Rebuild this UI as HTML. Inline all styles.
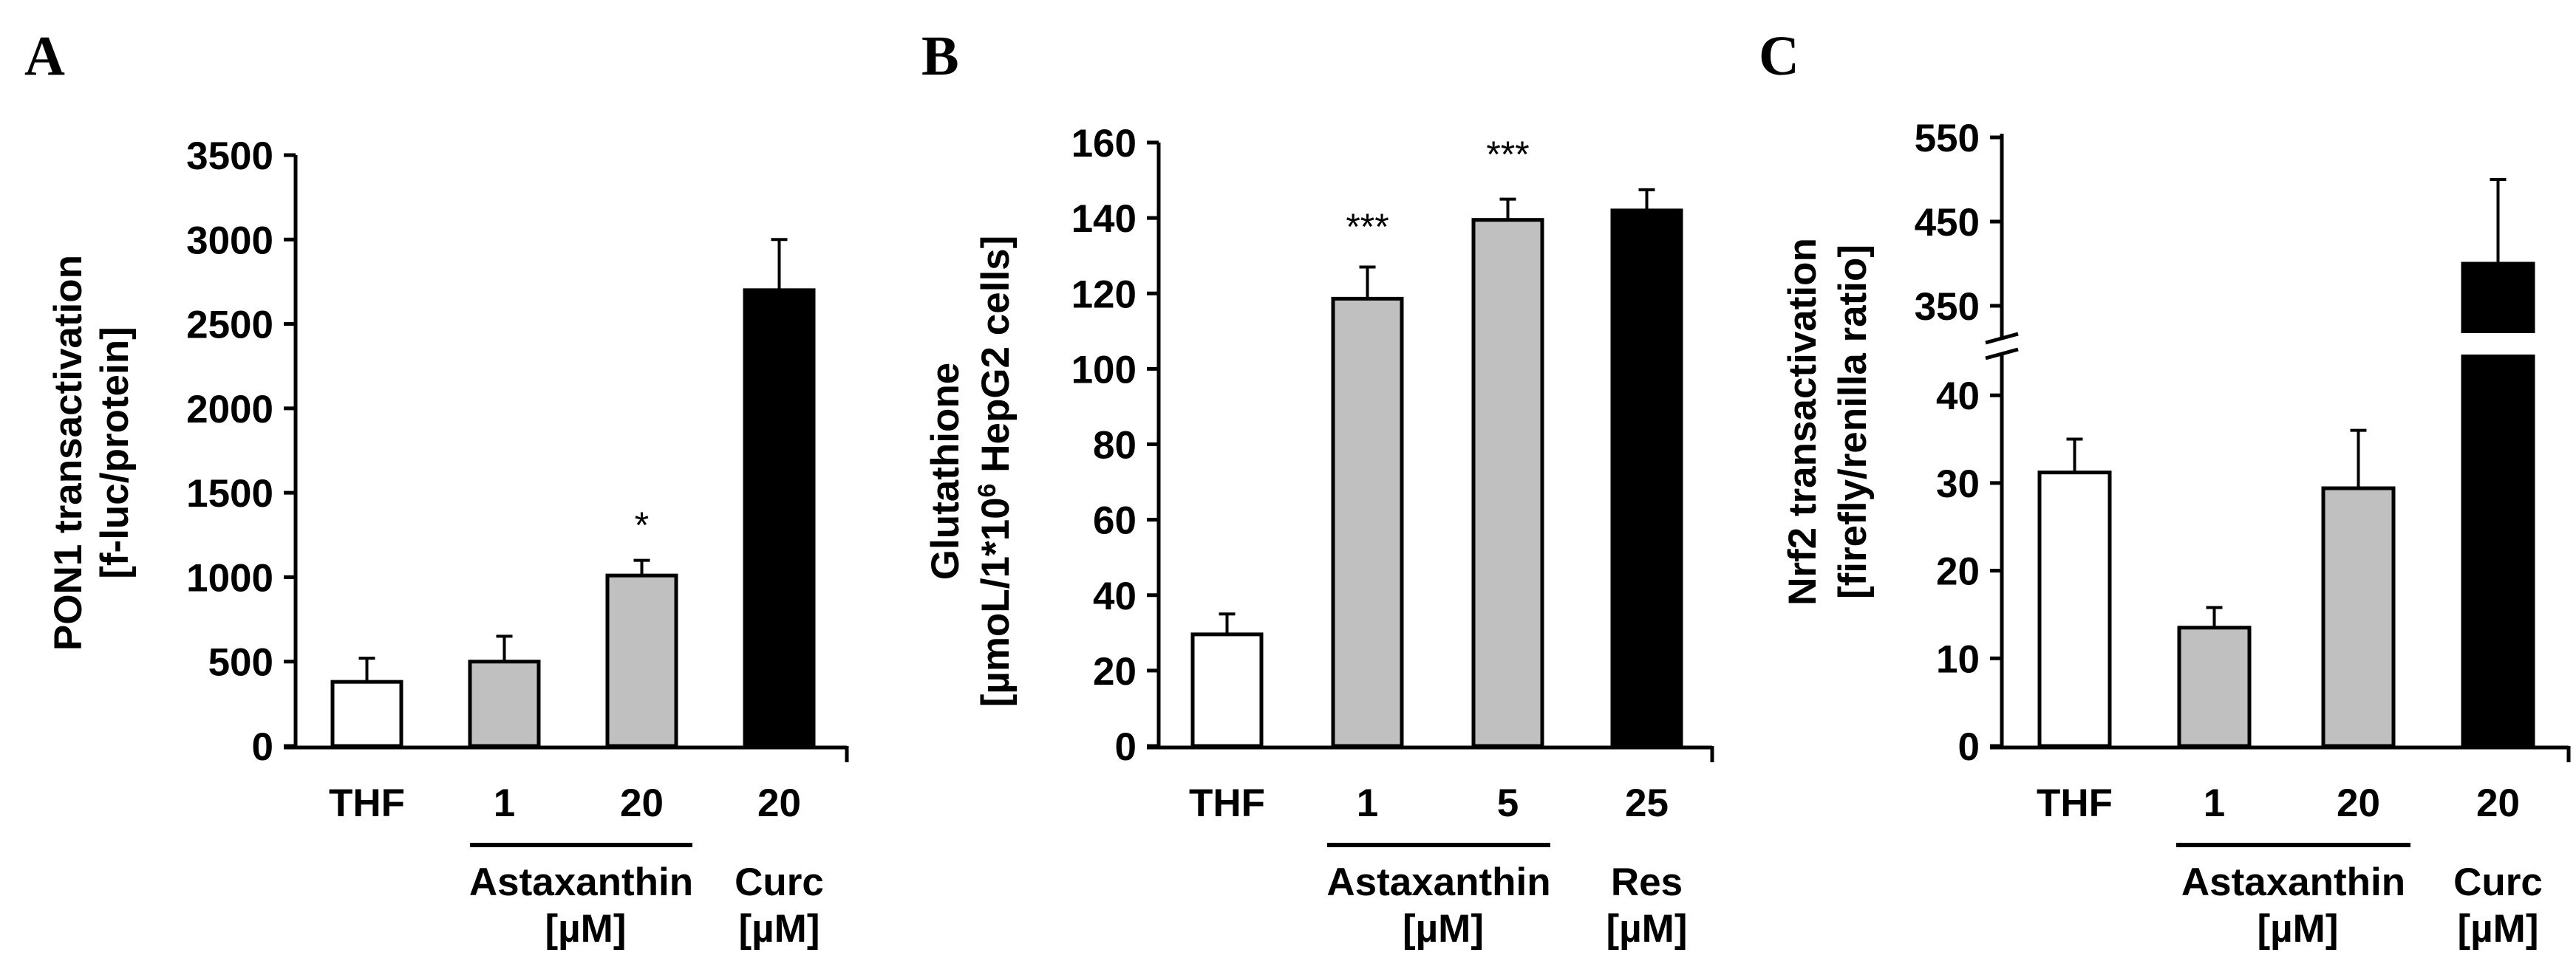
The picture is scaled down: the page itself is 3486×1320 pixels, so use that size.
<!DOCTYPE html>
<html><head><meta charset="utf-8"><style>
html,body{margin:0;padding:0;background:#fff;}
svg text{font-family:"Liberation Sans",Arial,sans-serif;font-weight:bold;fill:#000;}
svg text.letter{font-family:"Liberation Serif",serif;}
</style></head><body>
<svg id="fig" xmlns="http://www.w3.org/2000/svg" width="3486" height="1315" viewBox="0 0 3486 1315"></svg>
<script>
// Panel A data
const catsA = ["THF","1","20","20"];
const valsA = [380,500,1010,2700];
const errsA = [520,650,1100,3000];
const ticksA = [0,500,1000,1500,2000,2500,3000,3500];
const sigA = ["","","*",""];
// Panel B data
const catsB = ["THF","1","5","25"];
const valsB = [29.6,118.6,139.5,142];
const errsB = [35,127,145,147.5];
const ticksB = [0,20,40,60,80,100,120,140,160];
const sigB = ["","***","***",""];
// Panel C data
const catsC = ["THF","1","20","20"];
const valsC = [31.2,13.5,29.4,400];
const errsC = [35,15.8,36,500];
const ticksCLow = [0,10,20,30,40];
const ticksCHigh = [350,450,550];
const fills = ["#fff","#c0c0c0","#c0c0c0","#000"];

const NS="http://www.w3.org/2000/svg";
const svg=document.getElementById('fig');
const FS=53;
function mk(tag,attrs,parent){const e=document.createElementNS(NS,tag);for(const k in attrs)e.setAttribute(k,attrs[k]);(parent||svg).appendChild(e);return e;}
function txt(s,x,y,size,anchor,parent,cls){const t=mk('text',{x:x,y:y,'font-size':size,'text-anchor':anchor||'middle'},parent);if(cls)t.setAttribute('class',cls);t.textContent=s;return t;}

function panel(o){
  const g=mk('g',{});
  
  
  const L=txt(o.letter,o.lx,101,76,'start',g,'letter');
  
  
  const y=o.y;
  o.vals.forEach((v,i)=>{
    const x0=o.barX[i], w=o.barW;
    const top=y(v), e=y(o.errs[i]), cx=x0+w/2;
    const eb=mk('g',{},g);
    
    
    mk('line',{x1:cx,y1:top,x2:cx,y2:e,stroke:'#000','stroke-width':4},eb);
    mk('line',{x1:cx-11,y1:e,x2:cx+11,y2:e,stroke:'#000','stroke-width':4},eb);
    const r=mk('rect',{x:x0,y:top,width:w,height:o.y0-top,fill:fills[i],stroke:'#000','stroke-width':5},g);
    
    
    if(o.breakGap&&i===3){mk('rect',{x:x0-4,y:o.breakGap[0],width:w+8,height:o.breakGap[1]-o.breakGap[0],fill:'#fff'},g);}
    if(o.sig&&o.sig[i]){const s=txt(o.sig[i],cx,o.sigY[i]+22,50,'middle',g);s.setAttribute('style','font-weight:normal');
      
      }
  });
  const ax=mk('g',{},g);
  
  
  o.axisSegs.forEach(s=>mk('line',{x1:o.ax,y1:s[0],x2:o.ax,y2:s[1],stroke:'#000','stroke-width':5},ax));
  o.ticks.forEach(t=>{const ty=y(t);mk('line',{x1:o.ax-16,y1:ty,x2:o.ax,y2:ty,stroke:'#000','stroke-width':5},ax);
    txt(String(t),o.ax-30,ty+19,FS,'end',ax);});
  if(o.breakMarks){o.breakMarks.forEach(by=>mk('line',{x1:o.ax-22,y1:by+6,x2:o.ax+22,y2:by-6,stroke:'#000','stroke-width':5},ax));}
  const xa=mk('g',{},g);
  
  
  mk('line',{x1:o.ax-16,y1:o.y0+2,x2:o.xEnd,y2:o.y0+2,stroke:'#000','stroke-width':5},xa);
  mk('line',{x1:o.xEnd,y1:o.y0,x2:o.xEnd,y2:o.y0+22,stroke:'#000','stroke-width':5},xa);
  o.cats.forEach((c,i)=>{const t=txt(c,o.barX[i]+o.barW/2,1105,FS,'middle',xa);
    
    });
  mk('line',{x1:o.ul[0],y1:1144,x2:o.ul[1],y2:1144,stroke:'#000','stroke-width':6},xa);
  const a1=txt('Astaxanthin',(o.ul[0]+o.ul[1])/2,1212,FS,'middle',xa);
  
  
  txt('[µM]',(o.ul[0]+o.ul[1])/2+6,1275,FS,'middle',xa);
  const cx4=o.barX[3]+o.barW/2;
  const r1=txt(o.ref,cx4,1212,FS,'middle',xa);
  
  
  txt('[µM]',cx4,1275,FS,'middle',xa);
  const tg=mk('g',{transform:'translate('+o.tx+','+o.ty+') rotate(-90)'},g);
  
  
  txt(o.title[0],0,0,FS,'middle',tg);
  const t2=txt('',0,o.lh,FS,'middle',tg);
  if(o.title2html){o.title2html(t2);}else t2.textContent=o.title[1];
}

// A
(function(){const y0=1010,yt=210;const y=v=>y0-(v/3500)*(y0-yt);
panel({name:'panel-a',letter:'A',lx:33,y:y,y0:y0,ax:400,xEnd:1146,barX:[450,636,822,1008],barW:93,
 vals:valsA,errs:errsA,ticks:ticksA,cats:catsA,sig:sigA,sigY:[0,0,706,0],axisSegs:[[y0+2,yt]],
 ul:[636,937],ref:'Curc',tx:110,ty:613,lh:63,title:['PON1 transactivation','[f-luc/protein]']});})();
// B
(function(){const y0=1010,yt=193;const y=v=>y0-(v/160)*(y0-yt);
panel({name:'panel-b',letter:'B',lx:1247,y:y,y0:y0,ax:1568,xEnd:2317,barX:[1614,1804,1994,2182],barW:93,
 vals:valsB,errs:errsB,ticks:ticksB,cats:catsB,sig:sigB,sigY:[0,302,204,0],axisSegs:[[y0+2,yt]],
 ul:[1796,2098],ref:'Res',tx:1297,ty:638,lh:68,title:['Glutathione',''],
 title2html:function(t){t.innerHTML='[µmoL/1*10<tspan dy="-18" font-size="34">6</tspan><tspan dy="18"> HepG2 cells]</tspan>';}});})();
// C (broken axis)
(function(){const y0=1010;
const y=v=>v<=45? y0-(v/10)*118.7 : 414-(v-350)*1.14;
panel({name:'panel-c',letter:'C',lx:2380,y:y,y0:y0,ax:2709,xEnd:3476,barX:[2760,2949,3144,3333],barW:95,
 vals:valsC,errs:errsC,ticks:ticksCLow.concat(ticksCHigh),cats:catsC,axisSegs:[[y0+2,480],[458,181]],
 breakMarks:[458,479],breakGap:[451,480],
 ul:[2945,3262],ref:'Curc',tx:2457,ty:571,lh:68,title:['Nrf2 transactivation','[firefly/renilla ratio]']});})();
</script>
</body></html>
